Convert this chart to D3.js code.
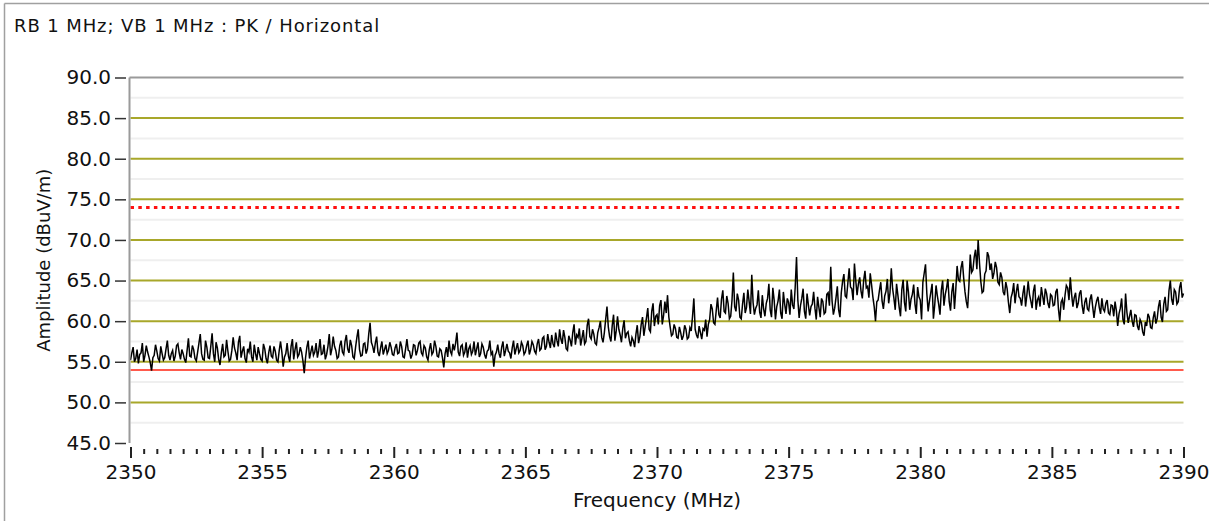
<!DOCTYPE html>
<html>
<head>
<meta charset="utf-8">
<script src="https://cdn.jsdelivr.net/npm/d3@7"></script>
<style>
  html, body { margin: 0; padding: 0; background: #ffffff; }
  svg { display: block; }
  text { font-family: "DejaVu Sans", Verdana, sans-serif; fill: #111; }
</style>
</head>
<body>
<svg id="chart" width="1209" height="521"></svg>
<script>
// ---------- data ----------
const titleText = "RB 1 MHz; VB 1 MHz : PK / Horizontal";
const xLabel = "Frequency (MHz)";
const yLabel = "Amplitude (dBuV/m)";
const freqStart = 2350;
const freqStep = 0.05;
const xTicks = [2350, 2355, 2360, 2365, 2370, 2375, 2380, 2385, 2390];
const yTicks = [45, 50, 55, 60, 65, 70, 75, 80, 85, 90];
const yMajorGrid = [50, 55, 60, 65, 70, 75, 80, 85];
const yMinorGrid = [47.5, 52.5, 57.5, 62.5, 67.5, 72.5, 77.5, 82.5, 87.5];
const limitAvg = 54.0;   // solid red
const limitPeak = 74.0;  // dotted red
const amplitude = [
  55.2, 56.1, 56.8, 55.0, 55.4, 56.5, 54.8, 55.9, 56.1, 57.3, 55.0, 55.8, 57.0, 56.2, 55.6, 54.9, 53.9, 55.5, 55.8, 57.1,
  56.3, 55.4, 55.1, 56.9, 56.0, 55.2, 55.5, 56.6, 57.6, 55.8, 55.2, 56.0, 56.4, 55.1, 55.7, 57.0, 57.2, 56.1, 55.3, 56.5,
  56.0, 55.3, 54.9, 56.4, 57.9, 55.7, 55.6, 57.0, 56.5, 55.4, 55.1, 56.2, 57.3, 58.4, 56.0, 55.3, 55.2, 57.6, 56.8, 55.5,
  55.4, 56.9, 58.5, 56.0, 55.0, 57.4, 56.7, 55.3, 54.6, 56.1, 57.2, 55.6, 55.8, 57.7, 56.3, 55.1, 55.3, 56.4, 58.0, 56.7,
  56.1, 55.2, 57.4, 58.2, 55.5, 56.3, 56.9, 55.4, 54.9, 56.6, 56.2, 57.5, 55.6, 55.0, 57.1, 56.0, 55.2, 56.8, 56.0, 55.3,
  55.1, 57.2, 56.6, 55.4, 54.8, 56.1, 57.0, 55.7, 55.5, 56.9, 56.3, 55.2, 55.0, 56.4, 57.5, 56.2, 54.4, 55.6, 56.0, 57.3,
  55.7, 55.0, 56.9, 57.8, 55.3, 56.5, 57.4, 55.6, 55.9, 56.8, 56.2, 55.1, 53.6, 55.5, 56.8, 57.6, 55.4, 56.2, 57.0, 55.8,
  56.2, 57.3, 55.5, 56.4, 57.8, 55.9, 56.0, 57.1, 55.3, 55.9, 56.9, 58.4, 55.8, 56.6, 58.1, 56.9, 56.4, 55.4, 55.6, 57.0,
  57.6, 56.2, 55.9, 57.5, 58.3, 56.6, 56.1, 57.7, 57.0, 55.6, 55.4, 56.8, 58.0, 59.0, 56.5, 55.7, 55.8, 57.2, 57.3, 56.0,
  56.6, 58.4, 59.8, 57.4, 56.9, 56.1, 57.3, 58.1, 56.2, 55.7, 56.7, 57.5, 55.9, 56.5, 57.1, 56.0, 56.4, 57.4, 56.8, 55.9,
  55.8, 56.7, 57.2, 56.0, 56.1, 57.5, 56.9, 55.6, 55.5, 56.6, 57.8, 56.4, 56.3, 55.4, 55.9, 57.1, 57.0, 55.8, 56.4, 57.3,
  57.5, 56.1, 55.8, 57.0, 56.7, 55.6, 55.2, 56.5, 57.3, 55.9, 56.2, 57.6, 56.9, 55.7, 55.6, 56.6, 56.4, 55.5, 54.3, 56.0,
  56.8, 55.6, 57.6, 56.3, 55.9, 57.2, 56.4, 57.3, 58.6, 56.2, 55.7, 56.9, 57.1, 55.8, 56.2, 57.4, 55.5, 56.6, 57.0, 55.9,
  56.3, 57.5, 55.8, 56.6, 57.4, 55.6, 56.0, 57.2, 56.8, 55.9, 55.4, 56.3, 56.5, 57.6, 55.9, 56.2, 54.4, 55.8, 56.2, 57.1,
  56.0, 55.5, 56.8, 57.5, 55.7, 56.4, 57.2, 56.3, 56.1, 55.4, 56.7, 57.6, 55.9, 56.6, 57.3, 56.1, 56.4, 57.4, 57.0, 55.9,
  56.2, 57.0, 57.6, 55.9, 56.5, 57.5, 57.1, 56.3, 56.0, 57.2, 57.8, 56.4, 56.6, 57.9, 58.1, 56.5, 56.9, 58.4, 57.4, 56.7,
  58.3, 57.2, 56.8, 58.6, 57.6, 56.9, 59.0, 57.8, 57.2, 58.9, 58.0, 56.6, 56.4, 58.2, 57.7, 56.9, 58.6, 59.6, 57.1, 58.3,
  58.0, 59.1, 57.0, 57.9, 58.9, 57.2, 57.5, 59.5, 60.3, 58.1, 57.8, 59.0, 58.4, 57.3, 57.1, 58.6, 59.2, 60.0, 58.0, 57.4,
  58.6, 60.2, 61.8, 59.3, 58.1, 57.5, 59.5, 60.8, 57.6, 58.8, 60.6, 59.0, 58.3, 57.4, 59.1, 60.1, 57.9, 58.5, 58.7, 57.6,
  56.9, 58.0, 57.6, 56.8, 58.4, 59.5, 57.3, 58.1, 59.6, 60.5, 58.2, 59.3, 60.4, 61.6, 59.0, 58.7, 61.2, 62.2, 59.4, 60.6,
  60.8, 59.6, 61.9, 62.6, 59.6, 60.7, 62.4, 61.0, 63.2, 60.5, 59.3, 58.2, 58.4, 59.6, 59.1, 58.0, 57.9, 59.3, 58.6, 57.7,
  58.2, 59.5, 59.0, 57.8, 58.0, 59.2, 58.8, 60.6, 62.8, 59.0, 58.3, 57.9, 59.4, 58.6, 57.8, 59.1, 58.9, 60.2, 58.1, 59.6,
  60.2, 62.1, 61.5, 59.8, 59.6, 61.3, 62.9, 60.8, 60.4, 62.7, 63.8, 61.2, 61.0, 63.1, 62.2, 60.3, 60.6, 62.6, 66.0, 61.8,
  61.2, 63.4, 62.6, 60.5, 60.3, 62.1, 63.5, 61.0, 61.7, 63.9, 62.4, 60.9, 65.7, 62.3, 60.8, 61.6, 62.0, 63.8, 61.1, 60.4,
  63.2, 61.5, 60.6, 62.2, 62.8, 64.6, 61.4, 60.5, 64.1, 62.6, 60.2, 61.8, 62.5, 63.9, 61.0, 60.3, 63.6, 62.1, 60.9, 62.8,
  62.3, 60.8, 63.9, 62.0, 61.5, 64.2, 67.9, 62.6, 60.4, 61.9, 62.8, 64.0, 61.2, 60.3, 63.4, 62.0, 60.7, 61.8, 62.1, 63.6,
  61.6, 60.2, 63.0, 61.7, 60.5, 62.8, 62.4, 60.9, 61.1, 63.3, 63.5, 61.9, 66.7, 62.5, 60.8, 61.6, 62.9, 64.3, 61.4, 60.5,
  63.5, 64.9, 65.8, 63.1, 62.9, 64.7, 66.5, 64.2, 64.0, 62.6, 67.1, 65.0, 63.2, 64.6, 65.4, 63.7, 62.8, 65.0, 66.2, 64.1,
  64.3, 62.9, 65.9, 64.5, 63.0, 61.8, 60.0, 62.4, 62.6, 63.8, 64.8, 62.5, 61.5, 63.1, 63.7, 65.2, 62.2, 63.5, 66.5, 64.0,
  62.8, 61.4, 64.6, 63.2, 61.7, 60.6, 63.9, 65.1, 62.3, 61.2, 65.0, 63.6, 61.4, 62.7, 63.3, 64.5, 62.1, 60.9, 64.2, 63.0,
  62.6, 60.2, 64.8, 65.9, 67.0, 63.4, 61.2, 62.5, 63.5, 64.6, 60.3, 62.0, 64.4, 63.1, 62.1, 60.8, 63.8, 65.0, 61.9, 63.3,
  64.1, 65.2, 62.4, 61.3, 63.6, 64.7, 61.5, 63.9, 66.8, 65.1, 64.9, 66.6, 67.4, 65.3, 63.6, 62.4, 61.6, 64.5, 68.2, 66.0,
  66.3, 67.9, 68.8, 66.4, 70.0, 67.2, 64.9, 63.5, 63.7, 65.8, 66.2, 68.5, 68.0, 66.3, 67.1, 65.2, 65.9, 67.3, 66.6, 64.8,
  64.5, 66.0, 65.4, 63.6, 63.2, 64.8, 64.0, 62.3, 61.0, 62.9, 63.5, 64.7, 62.2, 63.6, 64.6, 63.0, 62.8, 61.9, 63.4, 64.4,
  61.8, 63.2, 64.9, 63.3, 62.5, 61.6, 63.7, 64.5, 61.4, 62.6, 63.0, 61.8, 64.2, 63.1, 62.0, 64.0, 63.4, 62.2, 61.6, 63.3,
  63.1, 61.9, 62.0, 63.6, 64.0, 61.5, 60.0, 62.3, 62.7, 61.4, 63.2, 64.4, 64.1, 62.6, 65.4, 63.3, 61.8, 62.9, 63.5, 61.6,
  62.2, 63.4, 63.8, 61.9, 60.9, 62.3, 62.9, 61.5, 61.3, 62.7, 63.3, 61.8, 60.4, 61.7, 62.5, 63.0, 61.7, 60.9, 62.8, 61.5,
  61.2, 62.2, 62.6, 61.0, 60.8, 62.0, 61.9, 60.6, 62.4, 61.3, 59.4, 60.9, 61.6, 62.8, 60.2, 59.6, 63.4, 61.1, 59.8, 60.6,
  61.4, 60.0, 59.3, 60.8, 60.7, 59.4, 58.9, 60.2, 59.8, 58.7, 58.2, 59.9, 59.4, 60.9, 60.5, 59.2, 59.1, 60.4, 61.2, 59.7,
  60.3, 61.8, 62.6, 60.5, 59.9, 62.1, 63.0, 61.2, 61.4, 63.8, 65.0, 62.7, 62.0, 63.9, 63.6, 62.1, 62.4, 64.1, 64.8, 62.9,
  63.4
];

// ---------- layout ----------
const svg = d3.select("#chart");
const plot = { left: 130.5, right: 1183.5, top: 77.5, bottom: 443 };

const x = d3.scaleLinear().domain([2350, 2390]).range([plot.left, plot.right]);
const y = d3.scaleLinear().domain([45, 90]).range([plot.bottom, plot.top]);

// window frame (left and top edges)
svg.append("line").attr("x1", 4.5).attr("x2", 4.5).attr("y1", 3.5).attr("y2", 521)
  .attr("stroke", "#a0a0a0").attr("stroke-width", 1.5);
svg.append("line").attr("x1", 4.5).attr("x2", 1209).attr("y1", 3.5).attr("y2", 3.5)
  .attr("stroke", "#a0a0a0").attr("stroke-width", 1.5);

// title
svg.append("text").attr("x", 14).attr("y", 32)
  .style("font-size", "18px")
  .style("letter-spacing", "0.9px")
  .text(titleText);

// minor grid
svg.append("g").selectAll("line").data(yMinorGrid).join("line")
  .attr("x1", plot.left).attr("x2", plot.right)
  .attr("y1", d => y(d)).attr("y2", d => y(d))
  .attr("stroke", "#efefef").attr("stroke-width", 2);

// major grid (olive)
svg.append("g").selectAll("line").data(yMajorGrid).join("line")
  .attr("x1", plot.left).attr("x2", plot.right)
  .attr("y1", d => y(d)).attr("y2", d => y(d))
  .attr("stroke", "#a8a72a").attr("stroke-width", 2);

// limit lines
svg.append("line")
  .attr("x1", plot.left).attr("x2", plot.right)
  .attr("y1", y(limitAvg)).attr("y2", y(limitAvg))
  .attr("stroke", "#ff5a4c").attr("stroke-width", 2);
svg.append("line")
  .attr("x1", plot.left).attr("x2", plot.right)
  .attr("y1", y(limitPeak)).attr("y2", y(limitPeak))
  .attr("stroke", "#ff1010").attr("stroke-width", 3)
  .attr("stroke-dasharray", "3.5,4.3");

// trace
const pts = amplitude.map((v, i) => [freqStart + i * freqStep, v]);
const line = d3.line().x(d => x(d[0])).y(d => y(d[1]));
svg.append("path").datum(pts)
  .attr("d", line)
  .attr("fill", "none")
  .attr("stroke", "#000")
  .attr("stroke-width", 1.5)
  .attr("stroke-linejoin", "miter");

// frame: top border and left axis line
svg.append("line").attr("x1", plot.left - 1).attr("x2", plot.right)
  .attr("y1", plot.top).attr("y2", plot.top)
  .attr("stroke", "#9a9a9a").attr("stroke-width", 2);
svg.append("line").attr("x1", 129.5).attr("x2", 129.5)
  .attr("y1", plot.top).attr("y2", plot.bottom)
  .attr("stroke", "#9a9a9a").attr("stroke-width", 2);

// y axis
const yAxis = d3.axisLeft(y).tickValues(yTicks)
  .tickFormat(d3.format(".1f")).tickSize(11).tickPadding(4);
const gy = svg.append("g").attr("transform", "translate(126,0)").call(yAxis);
gy.select(".domain").remove();
gy.selectAll(".tick line").attr("stroke", "#333").attr("stroke-width", 1.5);
gy.selectAll(".tick text").style("font-size", "20px")
  .style("font-family", "'DejaVu Sans', sans-serif").attr("fill", "#111");

// x axis minor ticks
const minorTicks = d3.range(0, 81).map(i => 2350 + i * 0.5).filter(v => !xTicks.includes(v));
const xMinor = d3.axisBottom(x).tickValues(minorTicks).tickFormat("").tickSize(5);
const gxm = svg.append("g").attr("transform", "translate(0,449)").call(xMinor);
gxm.select(".domain").remove();
gxm.selectAll(".tick line").attr("stroke", "#222").attr("stroke-width", 2);

// x axis major
const xAxis = d3.axisBottom(x).tickValues(xTicks).tickFormat(d3.format("d"))
  .tickSize(11).tickPadding(7);
const gx = svg.append("g").attr("transform", "translate(0,447)").call(xAxis);
gx.select(".domain").remove();
gx.selectAll(".tick line").attr("stroke", "#222").attr("stroke-width", 2);
gx.selectAll(".tick text").style("font-size", "20px")
  .style("font-family", "'DejaVu Sans', sans-serif").attr("fill", "#111");

// axis titles
svg.append("text")
  .attr("x", (plot.left + plot.right) / 2).attr("y", 507)
  .attr("text-anchor", "middle")
  .style("font-size", "20px")
  .text(xLabel);
svg.append("text")
  .attr("transform", `translate(50,${(plot.top + plot.bottom) / 2}) rotate(-90)`)
  .attr("text-anchor", "middle")
  .style("font-size", "18px")
  .text(yLabel);
</script>
</body>
</html>
